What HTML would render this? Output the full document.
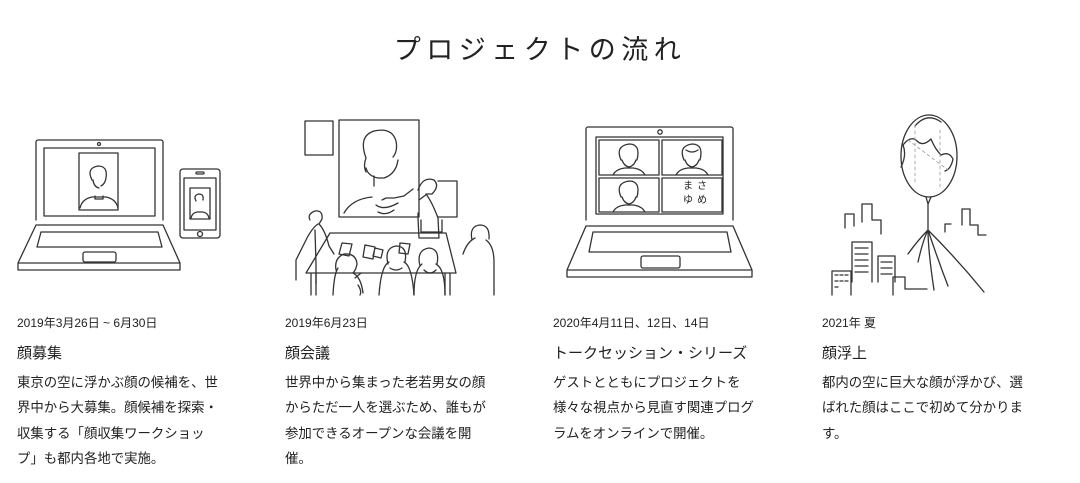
<!DOCTYPE html>
<html><head><meta charset="utf-8"><style>
html,body{margin:0;padding:0;background:#fff;}
body{width:1080px;height:483px;position:relative;overflow:hidden;font-family:"Liberation Sans","Noto Sans CJK JP",sans-serif;color:#222;}
h1{position:absolute;left:0;width:1080px;top:30px;margin:0;text-align:center;font-weight:400;font-size:27px;letter-spacing:5.5px;line-height:40px;}
.col{position:absolute;top:313px;width:230px;}
.d{font-size:12px;line-height:20px;}
.t{font-size:15px;line-height:22px;margin-top:10px;}
.b{font-size:13.4px;line-height:25.3px;margin-top:5px;}
svg{position:absolute;left:0;top:0;}
</style></head><body>
<h1>プロジェクトの流れ</h1>
<svg width="1080" height="300" fill="none" stroke="#333" stroke-width="1.3" stroke-linecap="round" stroke-linejoin="round">
<!-- laptop 1 -->
<path d="M36 220 V142 a2 2 0 0 1 2-2 H161 a2 2 0 0 1 2 2 V220"/>
<rect x="44" y="148" width="111" height="68"/>
<circle cx="99" cy="144" r="1.5"/>
<rect x="79" y="153" width="39" height="57"/>
<path d="M92 180 q-6-12 6-14 q10 0 8 12 q-1 6-5 8 M93 180 q1 7 6 8 M80 208 q2-9 12-11 h14 q10 2 12 11 M95 196 v3 h8 v-3"/>
<path d="M36 225 H163 L180 263 V270 H18 V263 Z M18 263 H180"/>
<path d="M41 232 H158 L162 247 H37 Z"/>
<rect x="83" y="252" width="33" height="10" rx="2"/>
<rect x="180" y="169" width="40" height="69" rx="3"/>
<rect x="184" y="178" width="32" height="52"/>
<rect x="190" y="188" width="20" height="31"/>
<path d="M196 201 q-3-6 3-7 q5 0 4 6 M191 218 q1-5 6-6 h6 q5 1 6 6"/>
<rect x="196" y="172" width="8" height="2" rx="1"/>
<circle cx="200" cy="234" r="2.5"/>
<!-- meeting -->
<rect x="305" y="121" width="28" height="34"/>
<rect x="339" y="120" width="80" height="97"/>
<path d="M366 158 q-8-22 8-27 q18-4 22 10 q2 10-3 16 M366 158 q-3 8 0 14 M398 160 q-2 14-14 18 h-6 q-10-2-12-10 M344 213 q8-14 28-16 M376 205 q8 6 22 -2 M378 212 q8 4 16 -2 M374 186 v-10"/>
<path d="M438 181 h19 v36 h-19 M382 200 l4 -2 h8 l10 -2 l9-7 M418 190 q5-14 16-10 q6 6-2 14 l-6 0 q6 8 12 24 l1 20 h-20 l-1-20 v-5 M421 220 v12 h21 v-12 M427 194 l-8 6"/>
<path d="M310 220 q-3-6 5-9 q8-1 7 8 l-3 5 q6 6 10 22 l5 8 M318 224 q-6 4-12 16 l-10 20 v20 M315 230 l1 34 v20"/>
<path d="M330 233 H446 L456 273 H306 Z M311 273 v22 M316 273 v22 M450 273 v22 M445 273 v22"/>
<path d="M342 243 l10 1 l-3 12 l-10-2 Z M365 245 l10 2 l-2 12 l-10-2 Z M400 243 l10 1 l-2 10 l-9-1 Z M375 248 l8 2 l-2 8 l-8-2 Z"/>
<path d="M336 270 q-2-12 8-16 q12-1 13 10 q-1 6-4 9 q8 4 10 20 M338 268 q-4 6-5 27 M355 278 l6-5 M358 285 q4 6 2 10"/>
<path d="M388 264 q-4-16 8-18 q12 0 9 16 M389 262 q-8 4-10 33 M404 262 q8 4 10 33 M390 268 q6 4 12 0"/>
<path d="M420 266 q-4-16 9-18 q11 1 8 16 M422 264 q-8 6-8 31 M436 264 q9 5 9 31 M424 270 q6 6 12 0"/>
<path d="M472 240 q-3-14 8-15 q10 0 9 14 M475 238 q-8 4-12 16 M486 240 q8 6 8 22 v33"/>
<!-- laptop 3 -->
<path d="M586 220 V129 a2 2 0 0 1 2-2 H731 a2 2 0 0 1 2 2 V220"/>
<rect x="596" y="137" width="127" height="77"/>
<circle cx="660" cy="132" r="2.2"/>
<rect x="599" y="140" width="60" height="35"/><rect x="662" y="140" width="60" height="35"/>
<rect x="599" y="178" width="60" height="34"/><rect x="662" y="178" width="60" height="34"/>
<path d="M621 160 q-6-14 8-16 q12 0 8 16 M622 160 q2 6 7 7 q5-1 7-7 M613 175 q3-6 12-7 h8 q9 1 12 7"/>
<path d="M684 160 q-6-14 8-16 q12 0 8 16 M685 160 q2 6 7 7 q5-1 7-7 M676 175 q3-6 12-7 h8 q9 1 12 7 M686 150 q6 4 12 0"/>
<path d="M621 197 q-6-14 8-16 q12 0 8 16 M622 197 q2 6 7 7 q5-1 7-7 M613 212 q3-6 12-7 h8 q9 1 12 7"/>
<path d="M586 226 H733 L752 270 V277 H567 V270 Z M567 270 H752"/>
<path d="M593 232 H727 L731 252 H589 Z"/>
<rect x="641" y="256" width="39" height="12" rx="2"/>
<!-- balloon -->
<ellipse cx="929" cy="156" rx="28" ry="41"/>
<path d="M903 145 q8-10 14-4 q6 6 14-2 q4 10 10 16 q8-4 12 4 q-2 10-8 12 M903 145 q4 10-2 22 M915 126 q12-14 26-4" />
<path d="M908 140 l40 30 M915 125 v60 M940 130 v60" stroke="#999" stroke-dasharray="3 3" stroke-width="0.8"/>
<path d="M926 197 l2 7 l3-7 M928 204 v26 M928 230 q-10 10-20 24 M928 230 q-5 10-10 32 M928 230 q0 20 6 60 M928 230 q10 30 20 56 M928 230 q30 30 56 62"/>
<path d="M845 228 v-14 h9 v12 M862 222 v-18 h10 v16 h9 v14 M945 232 v-8 h6 M962 225 v-16 h8 v16 h8 v10 h8"/>
<path d="M832 295 v-24 h19 v24 M835 275 h3 M840 275 h3 M845 275 h3 M835 281 h3 M840 281 h3 M845 281 h3 M835 287 h3"/>
<path d="M852 282 v-40 h20 v40 M855 248 h13 M855 254 h13 M855 260 h13 M855 266 h13 M855 272 h13"/>
<path d="M878 282 v-26 h17 v26 M881 262 h11 M881 268 h11 M881 274 h11 M893 295 v-18 h12 v12 h22"/>
</svg>
<div class="col" style="left:17px"><div class="d">2019年3月26日 ~ 6月30日</div><div class="t">顔募集</div><div class="b">東京の空に浮かぶ顔の候補を、世<br>界中から大募集。顔候補を探索・<br>収集する「顔収集ワークショッ<br>プ」も都内各地で実施。</div></div>
<div class="col" style="left:285px"><div class="d">2019年6月23日</div><div class="t">顔会議</div><div class="b">世界中から集まった老若男女の顔<br>からただ一人を選ぶため、誰もが<br>参加できるオープンな会議を開<br>催。</div></div>
<div class="col" style="left:553px"><div class="d">2020年4月11日、12日、14日</div><div class="t">トークセッション・シリーズ</div><div class="b">ゲストとともにプロジェクトを<br>様々な視点から見直す関連プログ<br>ラムをオンラインで開催。</div></div>
<div class="col" style="left:822px"><div class="d">2021年 夏</div><div class="t">顔浮上</div><div class="b">都内の空に巨大な顔が浮かび、選<br>ばれた顔はここで初めて分かりま<br>す。</div></div>
<div style="position:absolute;left:683px;top:180px;font-size:10px;line-height:14px;letter-spacing:4px;">まさ<br>ゆめ</div>
</body></html>
